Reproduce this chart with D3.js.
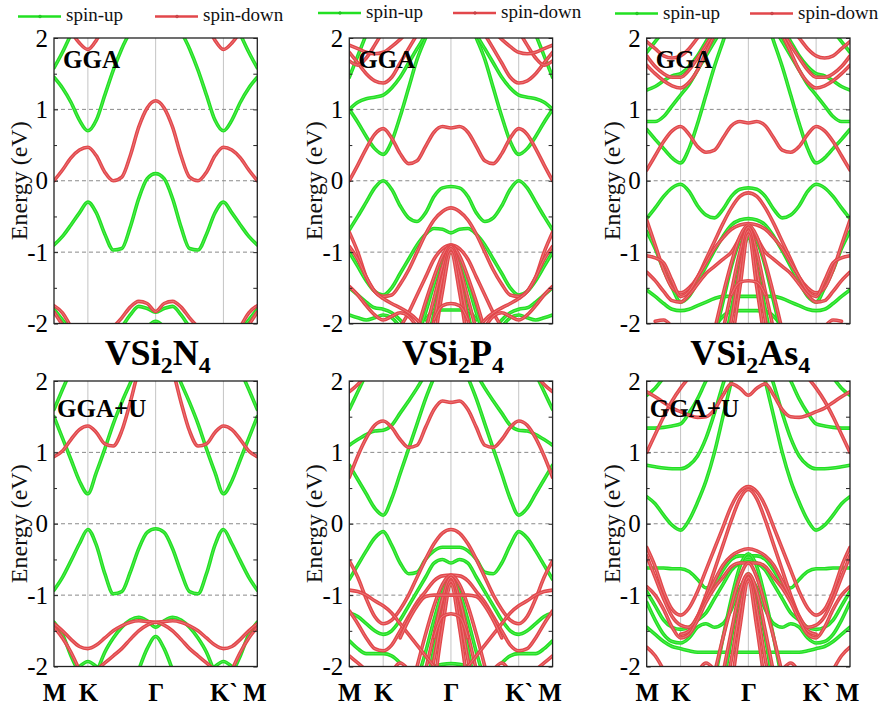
<!DOCTYPE html>
<html>
<head>
<meta charset="utf-8">
<script src="https://cdn.jsdelivr.net/npm/d3@7"></script>
<style>
  html, body { margin: 0; padding: 0; background: #fff; }
  svg { display: block; }
  svg text { font-family: "Liberation Serif", "Times New Roman", serif; }
</style>
</head>
<body>
<svg id="chart" width="885" height="715" font-family="'Liberation Serif', 'Times New Roman', serif"></svg>
<script>
// k-path M-K-Γ-K`-M in units of |MK| (M=0, K=1, Γ=3, K`=5, M=6).
// Bands are symmetric about Γ, so each one is listed on the half path M→K→Γ.
const kHalf = [0, 0.25, 0.5, 0.75, 1, 1.25, 1.5, 1.75, 2, 2.25, 2.5, 2.75, 3];
const kTicks = [0, 1, 3, 5, 6];
const kLabels = ["M", "K", "Γ", "K`", "M"];
const eTicks = [-2, -1, 0, 1, 2];
const eMinor = [-1.5, -0.5, 0.5, 1.5];
const _ = null;
const SERIF = "'Liberation Serif', 'Times New Roman', serif";

// VSi2N4, GGA
const n4GgaUp = [
  [-0.9, -0.78, -0.62, -0.45, -0.3, -0.45, -0.75, -0.97, -0.95, -0.65, -0.25, 0.03, 0.1],
  [1.45, 1.3, 1.1, 0.85, 0.7, 0.85, 1.2, 1.55, 1.85, 2.1, 2.4, _, _],
  [1.58, 1.8, 2.05, 2.3, _, _, _, _, _, _, _, _, _],
  [_, _, _, _, _, _, _, -2.2, -2.05, -1.88, -1.76, -1.79, -1.84],
  [_, _, _, _, _, _, _, _, _, _, -2.2, -2.05, -1.97],
  [-1.8, -1.95, -2.1, _, _, _, _, _, _, _, _, _, _]
];
const n4GgaDown = [
  [0.0, 0.15, 0.32, 0.43, 0.47, 0.35, 0.12, 0.0, 0.05, 0.35, 0.75, 1.02, 1.12],
  [2.6, 2.35, 2.1, 1.93, 1.84, 1.97, 2.2, 2.45, _, _, _, _, _],
  [_, _, _, _, _, _, _, -2.05, -1.92, -1.77, -1.69, -1.72, -1.83],
  [-1.75, -1.85, -2.05, _, _, _, _, _, _, _, _, _, _],
  [-1.84, -2.02, _, _, _, _, _, _, _, _, _, _, _]
];

// VSi2N4, GGA+U
const n4GgaUUp = [
  [-0.93, -0.75, -0.52, -0.28, -0.08, -0.3, -0.7, -0.98, -0.95, -0.68, -0.35, -0.12, -0.07],
  [1.5, 1.2, 0.9, 0.6, 0.42, 0.72, 1.05, 1.4, 1.7, 1.97, 2.25, _, _],
  [1.6, 1.88, 2.15, _, _, _, _, _, _, _, _, _, _],
  [_, _, _, _, _, -2.1, -1.8, -1.6, -1.45, -1.35, -1.31, -1.36, -1.45],
  [-1.38, -1.55, -1.85, -2.1, _, _, _, _, _, _, _, _, _],
  [_, _, _, _, _, _, _, _, _, _, -2.05, -1.75, -1.58],
  [_, _, -2.1, -2.0, -1.93, -2.0, -2.1, _, _, _, _, _, _]
];
const n4GgaUDown = [
  [0.94, 1.02, 1.18, 1.32, 1.37, 1.28, 1.12, 1.09, 1.3, 1.7, 2.15, 2.4, 2.5],
  [-1.4, -1.5, -1.62, -1.72, -1.75, -1.7, -1.6, -1.5, -1.43, -1.38, -1.36, -1.37, -1.38],
  [-1.45, -1.6, -1.8, -2.05, _, _, _, _, _, _, _, _, _],
  [_, _, _, _, _, -2.05, -1.95, -1.85, -1.75, -1.62, -1.5, -1.42, -1.38]
];

// VSi2P4, GGA
const p4GgaUp = [
  [-0.69, -0.5, -0.3, -0.1, 0.0, -0.12, -0.35, -0.52, -0.57, -0.45, -0.22, -0.1, -0.08],
  [1.0, 0.82, 0.62, 0.45, 0.37, 0.55, 0.9, 1.3, 1.7, 2.0, 2.3, _, _],
  [1.0, 1.1, 1.15, 1.17, 1.2, 1.3, 1.45, 1.65, 1.85, 2.05, 2.3, _, _],
  [1.45, 1.75, 2.05, _, _, _, _, _, _, _, _, _, _],
  [-1.0, -1.2, -1.4, -1.55, -1.6, -1.5, -1.3, -1.1, -0.9, -0.75, -0.67, -0.68, -0.73],
  [_, _, _, _, _, _, _, _, -2.2, -1.85, -1.45, -1.1, -0.95],
  [_, _, _, _, _, _, _, _, _, -2.4, -1.85, -1.3, -1.0],
  [_, _, _, _, _, _, _, _, _, -1.95, -1.82, -1.81, -1.81],
  [-1.5, -1.6, -1.7, -1.78, -1.8, -1.85, -1.95, -2.1, _, _, _, _, _],
  [-1.88, -1.92, -1.95, -1.92, -1.88, -1.92, -2.05, _, _, _, _, _, _]
];
const p4GgaDown = [
  [0.0, 0.22, 0.45, 0.65, 0.73, 0.6, 0.38, 0.24, 0.28, 0.48, 0.68, 0.76, 0.74],
  [1.8, 1.65, 1.5, 1.4, 1.37, 1.45, 1.65, 1.85, 2.05, _, _, _, _],
  [1.68, 1.62, 1.72, 1.9, 2.1, _, _, _, _, _, _, _, _],
  [1.9, 1.85, 1.8, 1.78, 1.8, 1.88, 1.98, 2.1, _, _, _, _, _],
  [-0.72, -1.0, -1.35, -1.55, -1.62, -1.6, -1.45, -1.25, -1.0, -0.75, -0.55, -0.43, -0.38],
  [_, _, _, _, _, _, -2.05, -1.85, -1.6, -1.35, -1.1, -0.95, -0.9],
  [_, _, _, _, _, _, _, _, -2.1, -1.7, -1.35, -1.05, -0.9],
  [_, _, _, _, _, _, _, _, _, -2.1, -1.65, -1.2, -0.92],
  [_, _, _, _, _, _, _, _, _, -2.4, -1.95, -1.35, -0.95],
  [_, _, _, _, _, _, _, _, _, _, -2.3, -1.55, -1.0],
  [_, _, _, _, _, _, _, _, _, _, -1.95, -1.75, -1.72],
  [-0.92, -1.1, -1.35, -1.55, -1.65, -1.72, -1.78, -1.85, -1.95, -2.1, _, _, _],
  [-1.48, -1.6, -1.75, -1.88, -1.95, -1.9, -1.85, -1.9, -2.05, _, _, _, _]
];

// VSi2P4, GGA+U
const p4GgaUUp = [
  [-0.78, -0.58, -0.38, -0.2, -0.11, -0.3, -0.55, -0.7, -0.68, -0.5, -0.38, -0.33, -0.33],
  [0.82, 0.62, 0.42, 0.22, 0.12, 0.35, 0.7, 1.05, 1.4, 1.75, 2.05, _, _],
  [1.1, 1.18, 1.25, 1.3, 1.31, 1.38, 1.55, 1.72, 1.9, 2.1, _, _, _],
  [1.6, 1.85, 2.1, _, _, _, _, _, _, _, _, _, _],
  [-1.25, -1.3, -1.4, -1.5, -1.55, -1.5, -1.35, -1.15, -0.95, -0.75, -0.55, -0.5, -0.55],
  [_, _, _, _, _, _, _, _, -2.2, -1.8, -1.35, -0.95, -0.75],
  [_, _, _, _, _, _, _, _, _, -2.4, -1.75, -1.2, -0.85],
  [-1.64, -1.75, -1.82, -1.82, -1.82, -1.85, -1.95, _, _, _, _, _, _],
  [_, _, _, _, _, _, _, _, _, -2.1, -2.0, -1.97, -1.96]
];
const p4GgaUDown = [
  [0.65, 0.95, 1.2, 1.38, 1.44, 1.35, 1.18, 1.07, 1.1, 1.35, 1.6, 1.72, 1.7],
  [1.85, 1.95, 2.1, _, _, _, _, _, _, _, _, _, _],
  [-0.52, -0.75, -1.05, -1.3, -1.4, -1.35, -1.2, -1.0, -0.75, -0.5, -0.28, -0.13, -0.08],
  [-1.22, -1.4, -1.6, -1.75, -1.78, -1.7, -1.5, -1.3, -1.1, -0.95, -0.8, -0.73, -0.72],
  [_, _, _, _, _, _, _, _, -2.0, -1.55, -1.15, -0.85, -0.72],
  [_, _, _, _, _, _, _, _, _, -2.05, -1.55, -1.05, -0.75],
  [_, _, _, _, _, _, _, _, _, -2.4, -1.9, -1.25, -0.8],
  [_, _, _, _, _, _, _, _, _, _, -2.3, -1.45, -0.85],
  [_, _, _, _, _, _, _, _, _, _, -1.6, -1.3, -1.26],
  [-0.93, -0.95, -1.0, -1.08, -1.15, -1.25, -1.4, -1.55, -1.7, -1.85, -2.0, _, _],
  [_, _, _, _, _, _, -1.6, -1.35, -1.15, -1.02, -1.0, -1.0, -1.0],
  [-1.85, -1.95, -2.05, _, _, _, _, _, _, _, _, _, _],
  [_, _, _, _, _, -2.1, -1.95, -2.05, _, _, _, _, _]
];

// VSi2As4, GGA
const as4GgaUp = [
  [-0.53, -0.38, -0.22, -0.1, -0.05, -0.15, -0.35, -0.48, -0.52, -0.4, -0.22, -0.12, -0.1],
  [0.72, 0.58, 0.45, 0.32, 0.25, 0.45, 0.8, 1.2, 1.6, 1.95, 2.3, _, _],
  [0.83, 0.83, 0.9, 1.05, 1.2, 1.35, 1.55, 1.75, 1.95, 2.15, _, _, _],
  [1.27, 1.32, 1.4, 1.47, 1.5, 1.6, 1.75, 1.95, 2.15, _, _, _, _],
  [1.8, 1.95, 2.1, _, _, _, _, _, _, _, _, _, _],
  [-0.71, -0.95, -1.25, -1.5, -1.7, -1.62, -1.42, -1.2, -0.98, -0.78, -0.62, -0.55, -0.53],
  [-1.53, -1.62, -1.72, -1.8, -1.82, -1.8, -1.75, -1.7, -1.65, -1.62, -1.62, -1.62, -1.62],
  [_, _, _, _, _, _, _, _, -2.05, -1.9, -1.83, -1.82, -1.82],
  [_, _, _, _, _, _, _, _, -2.2, -1.7, -1.2, -0.85, -0.75],
  [_, _, _, _, _, _, _, _, _, -2.4, -1.8, -1.2, -0.8]
];
const as4GgaDown = [
  [0.15, 0.35, 0.55, 0.7, 0.76, 0.65, 0.48, 0.4, 0.43, 0.6, 0.77, 0.83, 0.81],
  [1.62, 1.5, 1.4, 1.33, 1.3, 1.38, 1.55, 1.8, 2.05, _, _, _, _],
  [1.75, 1.6, 1.5, 1.45, 1.45, 1.55, 1.72, 1.9, 2.1, _, _, _, _],
  [1.95, 1.85, 1.75, 1.72, 1.75, 1.85, 2.0, 2.15, _, _, _, _, _],
  [-0.55, -0.9, -1.25, -1.5, -1.57, -1.5, -1.35, -1.1, -0.85, -0.6, -0.38, -0.22, -0.17],
  [-1.05, -1.08, -1.15, -1.4, -1.62, -1.55, -1.35, -1.15, -0.95, -0.8, -0.68, -0.62, -0.6],
  [-1.28, -1.4, -1.55, -1.68, -1.7, -1.6, -1.45, -1.3, -1.2, -1.1, -1.0, -0.8, -0.65],
  [_, _, _, _, _, _, _, _, -2.1, -1.6, -1.15, -0.78, -0.62],
  [_, _, _, _, _, _, _, _, _, -2.1, -1.55, -1.0, -0.65],
  [_, _, _, _, _, _, _, _, _, -2.5, -1.95, -1.25, -0.7],
  [_, _, _, _, _, _, _, _, _, _, -2.3, -1.5, -0.75],
  [_, _, _, _, _, _, _, _, _, _, -1.6, -1.42, -1.4],
  [_, -1.97, -1.95, -2.05, _, _, _, _, _, _, _, _, _]
];

// VSi2As4, GGA+U
const as4GgaUUp = [
  [0.38, 0.28, 0.12, -0.02, -0.09, 0.05, 0.3, 0.6, 1.0, 1.5, 2.0, _, _],
  [0.82, 0.8, 0.78, 0.77, 0.77, 0.82, 0.95, 1.2, 1.55, 1.95, 2.3, _, _],
  [1.34, 1.34, 1.35, 1.37, 1.4, 1.55, 1.75, 2.0, 2.2, _, _, _, _],
  [1.8, 1.9, 2.05, _, _, _, _, _, _, _, _, _, _],
  [-0.62, -0.62, -0.62, -0.63, -0.63, -0.67, -0.78, -0.9, -0.85, -0.65, -0.5, -0.45, -0.45],
  [-0.95, -1.15, -1.35, -1.45, -1.48, -1.45, -1.35, -1.25, -1.05, -0.85, -0.65, -0.55, -0.5],
  [-1.1, -1.35, -1.55, -1.65, -1.67, -1.6, -1.45, -1.4, -1.45, -1.4, -1.2, -0.9, -0.75],
  [-1.45, -1.55, -1.65, -1.72, -1.75, -1.78, -1.8, -1.8, -1.8, -1.8, -1.8, -1.8, -1.8],
  [_, _, _, _, _, _, _, _, -2.2, -1.6, -1.05, -0.6, -0.42],
  [_, _, _, _, _, _, _, _, _, -2.3, -1.6, -1.0, -0.7]
];
const as4GgaUDown = [
  [1.0, 1.25, 1.5, 1.72, 1.9, 2.05, _, _, _, _, _, _, _],
  [1.85, 1.78, 1.7, 1.62, 1.57, 1.52, 1.49, 1.5, 1.6, 1.8, 1.96, 1.9, 1.8],
  [-0.33, -0.6, -0.95, -1.2, -1.28, -1.18, -0.95, -0.65, -0.35, -0.05, 0.25, 0.45, 0.52],
  [_, _, _, _, -1.55, -1.5, -1.3, -1.0, -0.65, -0.3, 0.05, 0.35, 0.48],
  [-0.45, -0.75, -1.05, -1.3, -1.42, -1.45, -1.3, -1.05, -0.8, -0.58, -0.45, -0.38, -0.35],
  [-0.88, -1.0, -1.2, -1.45, -1.6, -1.55, -1.35, -1.1, -0.9, -0.75, -0.6, -0.55, -0.55],
  [_, _, _, _, _, _, _, _, -2.1, -1.6, -1.15, -0.75, -0.55],
  [_, _, _, _, _, _, _, _, _, -2.1, -1.5, -0.95, -0.7],
  [_, _, _, _, _, _, _, _, _, -2.5, -1.9, -1.2, -0.75],
  [_, _, _, _, _, _, _, _, _, _, -2.3, -1.45, -0.8],
  [-1.73, -1.85, -2.05, _, _, _, _, _, _, _, _, _, _],
  [_, _, _, _, _, _, -2.1, -1.95, -2.05, _, _, _, _]
];

const materials = [
  { main: "VSi", sub1: "2", el: "N", sub2: "4" },
  { main: "VSi", sub1: "2", el: "P", sub2: "4" },
  { main: "VSi", sub1: "2", el: "As", sub2: "4" }
];

const panels = [
  { row: 0, col: 0, up: n4GgaUp, down: n4GgaDown, tag: "GGA" },
  { row: 0, col: 1, up: p4GgaUp, down: p4GgaDown, tag: "GGA" },
  { row: 0, col: 2, up: as4GgaUp, down: as4GgaDown, tag: "GGA" },
  { row: 1, col: 0, up: n4GgaUUp, down: n4GgaUDown, tag: "GGA+U" },
  { row: 1, col: 1, up: p4GgaUUp, down: p4GgaUDown, tag: "" },
  { row: 1, col: 2, up: as4GgaUUp, down: as4GgaUDown, tag: "GGA+U" }
];

// layout
const colLeft = [54, 349.3, 646.7];
const rowTop = [38, 381];
const pw = 203.3, ph = 285.5;
const tagOffset = [[9, 30], [3, 36]];
const legendPos = [
  { x: 18, y: 16.5, tx: 21 },
  { x: 318, y: 13, tx: 18 },
  { x: 615, y: 13.5, tx: 18.5 }
];
const GREEN = "#22e022";
const RED = "#e2474b";

const svg = d3.select("#chart");

// full path = half path plus its mirror image past Γ
const kFull = kHalf.concat(kHalf.slice(0, -1).reverse().map(k => 6 - k));
function fullBand(half) {
  const vals = half.concat(half.slice(0, -1).reverse());
  return kFull.map((k, i) => [k, vals[i]]);
}

panels.forEach((p, pi) => {
  const left = colLeft[p.col], top = rowTop[p.row];
  const x = d3.scaleLinear().domain([0, 6]).range([left, left + pw]);
  const y = d3.scaleLinear().domain([-2, 2]).range([top + ph, top]);
  const g = svg.append("g");

  const clipId = "clip" + pi;
  svg.append("clipPath").attr("id", clipId)
    .append("rect").attr("x", left).attr("y", top).attr("width", pw).attr("height", ph);

  // high-symmetry verticals
  g.selectAll(".kline").data(kTicks.slice(1, -1)).join("line")
    .attr("x1", d => x(d)).attr("x2", d => x(d))
    .attr("y1", top).attr("y2", top + ph)
    .attr("stroke", "#c4c4c4").attr("stroke-width", 1);

  // dashed energy references
  g.selectAll(".eline").data([-1, 0, 1]).join("line")
    .attr("x1", left).attr("x2", left + pw)
    .attr("y1", d => y(d)).attr("y2", d => y(d))
    .attr("stroke", "#8a8a8a").attr("stroke-width", 1)
    .attr("stroke-dasharray", "4,3");

  const line = d3.line()
    .defined(d => d[1] != null)
    .x(d => x(d[0])).y(d => y(d[1]))
    .curve(d3.curveMonotoneX);

  const bands = g.append("g").attr("clip-path", `url(#${clipId})`);
  const drawSet = (set, color, inner) => {
    set.forEach(half => {
      const data = fullBand(half);
      bands.append("path").attr("d", line(data))
        .attr("fill", "none").attr("stroke", color)
        .attr("stroke-width", 3.6).attr("stroke-linejoin", "round").attr("stroke-linecap", "round");
      bands.append("path").attr("d", line(data))
        .attr("fill", "none").attr("stroke", inner)
        .attr("stroke-width", 0.9).attr("opacity", 0.55);
    });
  };
  drawSet(p.up, GREEN, "#8cf58c");
  drawSet(p.down, RED, "#f2a9a9");

  // axes: labelled majors on the left, minor and right ticks pointing inward
  g.append("g").attr("transform", `translate(${left},0)`)
    .call(d3.axisLeft(y).tickValues(eTicks).tickSize(-4).tickPadding(6).tickFormat(d => String(d)))
    .attr("font-family", SERIF).attr("font-size", 25)
    .call(a => a.select(".domain").remove())
    .call(a => a.selectAll("text").attr("fill", "#000"))
    .call(a => a.selectAll("line").attr("stroke", "#222"));
  g.append("g").attr("transform", `translate(${left},0)`)
    .call(d3.axisLeft(y).tickValues(eMinor).tickSize(-3).tickFormat(""))
    .call(a => a.select(".domain").remove())
    .call(a => a.selectAll("line").attr("stroke", "#222"));
  g.append("g").attr("transform", `translate(${left + pw},0)`)
    .call(d3.axisRight(y).tickValues(eTicks.concat(eMinor)).tickSize(-4).tickFormat(""))
    .call(a => a.select(".domain").remove())
    .call(a => a.selectAll("line").attr("stroke", "#222"));

  g.append("rect").attr("x", left).attr("y", top).attr("width", pw).attr("height", ph)
    .attr("fill", "none").attr("stroke", "#222").attr("stroke-width", 1.3);

  // y title
  g.append("text")
    .attr("transform", `translate(${left - 27},${top + ph / 2}) rotate(-90)`)
    .attr("text-anchor", "middle").attr("font-size", 24).attr("fill", "#111")
    .attr("font-family", SERIF)
    .text("Energy (eV)");

  // method tag
  if (p.tag) {
    g.append("text")
      .attr("x", left + tagOffset[p.row][0]).attr("y", top + tagOffset[p.row][1])
      .attr("font-size", 25).attr("font-weight", "bold").attr("fill", "#000")
      .attr("font-family", SERIF)
      .text(p.tag);
  }

  // k-path labels under the bottom row
  if (p.row === 1) {
    g.append("g").attr("transform", `translate(0,${top + ph})`)
      .call(d3.axisBottom(x).tickValues(kTicks).tickSize(0).tickPadding(17)
        .tickFormat((d, i) => kLabels[i]))
      .attr("font-family", SERIF).attr("font-size", 25).attr("font-weight", "bold")
      .call(a => a.select(".domain").remove())
      .call(a => a.selectAll("text").attr("fill", "#000"))
      .call(a => a.selectAll(".tick").filter((d, i) => i === 4).select("text").attr("dx", -3));
  }

  // compound title between the rows, legend above the top row
  if (p.row === 0) {
    const m = materials[p.col];
    const t = g.append("text")
      .attr("x", left + pw / 2 + 2).attr("y", top + ph + 41)
      .attr("text-anchor", "middle").attr("font-size", 36).attr("font-weight", "bold")
      .attr("fill", "#000").attr("font-family", SERIF);
    t.append("tspan").text(m.main);
    t.append("tspan").attr("font-size", 24).attr("dy", 8).text(m.sub1);
    t.append("tspan").attr("dy", -8).text(m.el);
    t.append("tspan").attr("font-size", 24).attr("dy", 8).text(m.sub2);

    const lp = legendPos[p.col];
    const items = [
      { label: "spin-up", color: GREEN, x0: lp.x },
      { label: "spin-down", color: RED, x0: lp.x + (p.col === 0 ? 137 : 135) }
    ];
    items.forEach(it => {
      g.append("line").attr("x1", it.x0).attr("x2", it.x0 + 43)
        .attr("y1", lp.y).attr("y2", lp.y)
        .attr("stroke", it.color).attr("stroke-width", 2.6);
      g.append("circle").attr("cx", it.x0 + 22).attr("cy", lp.y).attr("r", 1.3)
        .attr("fill", "none").attr("stroke", d3.color(it.color).darker(0.6)).attr("stroke-width", 0.8);
      g.append("text").attr("x", it.x0 + 48).attr("y", lp.tx)
        .attr("font-size", 19).attr("fill", "#111").attr("font-family", SERIF)
        .text(it.label);
    });
  }
});
</script>
</body>
</html>
